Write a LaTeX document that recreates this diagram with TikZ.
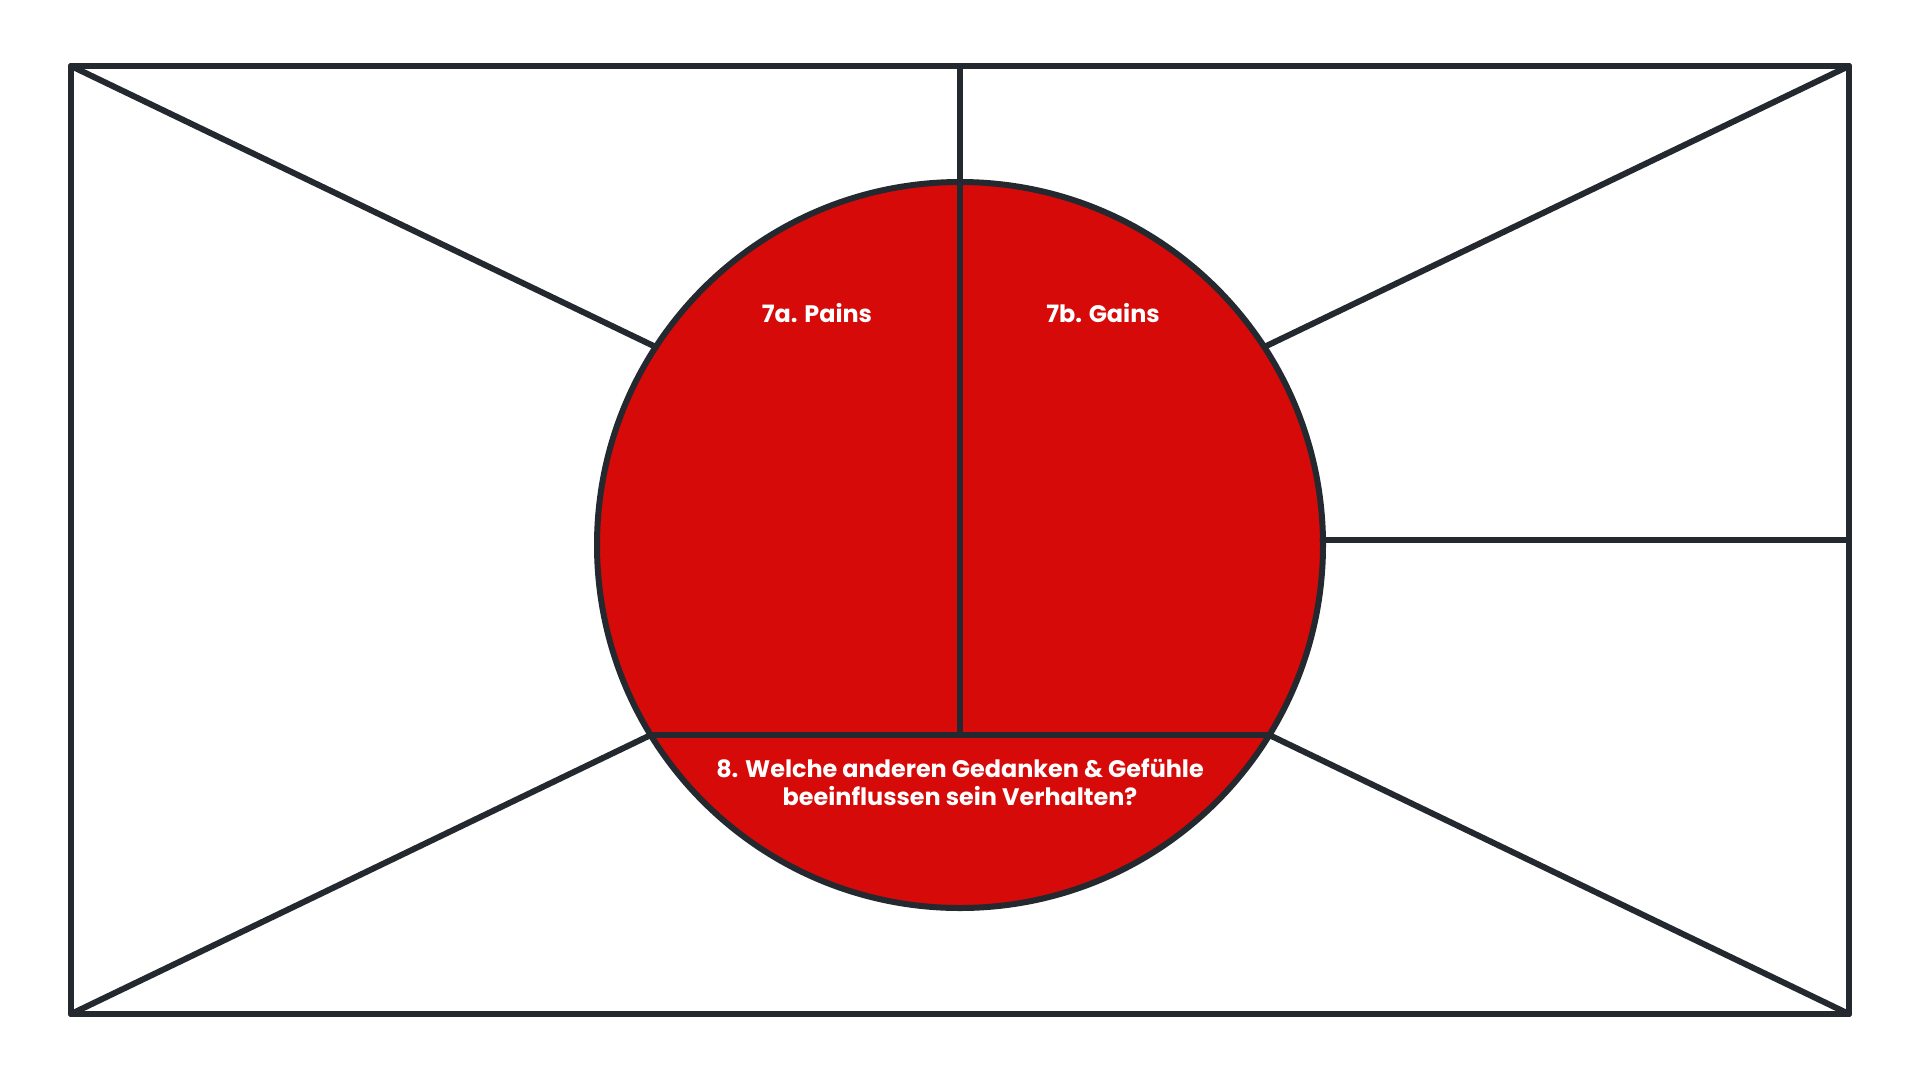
\documentclass[tikz,border=0pt]{standalone}
\usepackage{fontspec}
\setmainfont{Poppins}
\definecolor{inkdark}{RGB}{35,41,47}
\definecolor{canvasred}{RGB}{215,10,10}
\tikzset{
  frameline/.style={draw=inkdark, line width=6pt, line cap=round, line join=round},
  label/.style={text=white, font=\fontsize{23.9}{28}\selectfont\bfseries, inner sep=0pt, anchor=base},
}
\begin{document}
\begin{tikzpicture}[x=1pt,y=-1pt]
\useasboundingbox (0,0) rectangle (1920,1080);
\fill[white] (0,0) rectangle (1920,1080);
% key points
\coordinate (tl) at (71,66);
\coordinate (tr) at (1849,66);
\coordinate (bl) at (71,1014);
\coordinate (br) at (1849,1014);
\coordinate (topmid) at (960,66);
\coordinate (rightmid) at (1849,540);
\coordinate (c) at (960,545);
\coordinate (ul) at (655.8,347);
\coordinate (ur) at (1264.2,347);
\coordinate (chl) at (650.7,735);
\coordinate (chr) at (1269.3,735);
\coordinate (chm) at (960,735);
\coordinate (cright) at (1322.5,540);
% circle fill
\fill[canvasred] (c) circle[radius=363];
% inner lines
\draw[frameline] (topmid) -- (chm);
\draw[frameline] (chl) -- (chr);
% circle outline
\draw[frameline] (c) circle[radius=363];
% outer frame
\draw[frameline] (tl) rectangle (br);
% diagonals and connector
\draw[frameline] (tl) -- (ul);
\draw[frameline] (tr) -- (ur);
\draw[frameline] (bl) -- (chl);
\draw[frameline] (br) -- (chr);
\draw[frameline] (cright) -- (rightmid);
% labels
\node[label] (pains) at (817,322) {7a. Pains};
\node[label] (gains) at (1103,322) {7b. Gains};
\node[label] (q1) at (960,777) {8. Welche anderen Gedanken \& Gefühle};
\node[label] (q2) at (960,805) {beeinflussen sein Verhalten?};
\end{tikzpicture}
\end{document}
